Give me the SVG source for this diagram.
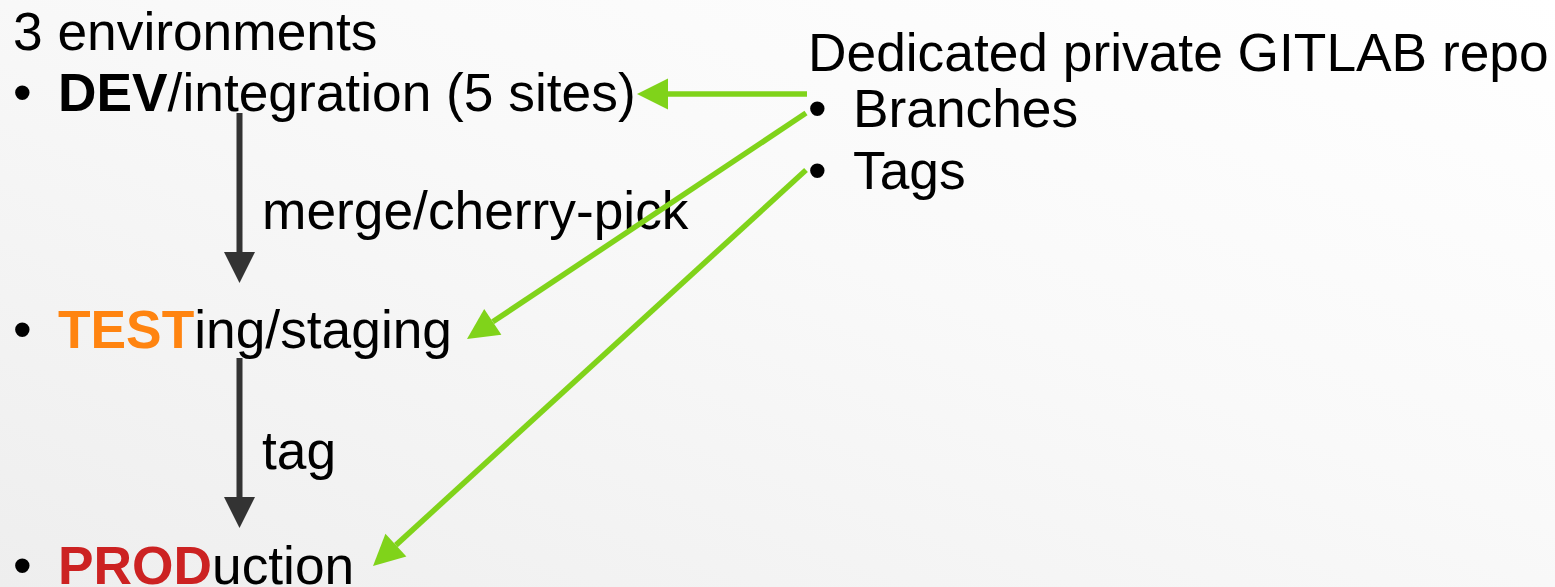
<svg xmlns="http://www.w3.org/2000/svg" width="1555" height="587" viewBox="0 0 1555 587">
<style>
text{font-family:"Liberation Sans",Arial,sans-serif;font-size:53.3px;fill:#000}
.b{font-weight:bold}
.test{fill:#FF8410}
.prod{fill:#CC2222}
.dark{stroke:#333333;stroke-width:6;fill:none}
.green{stroke:#80D31A;stroke-width:5.5;fill:none}
</style>
<defs>
<linearGradient id="bg" x1="0" y1="1" x2="1" y2="0">
<stop offset="0" stop-color="#eeeeee"/>
<stop offset="0.55" stop-color="#f9f9f9"/>
<stop offset="1" stop-color="#ffffff"/>
</linearGradient>
<marker id="hd" markerUnits="userSpaceOnUse" markerWidth="32" markerHeight="32" refX="0" refY="15.5" orient="auto" overflow="visible">
<path d="M0,0 L31,15.5 L0,31 z" fill="#333333"/>
</marker>
<marker id="hg" markerUnits="userSpaceOnUse" markerWidth="32" markerHeight="32" refX="0" refY="15.5" orient="auto" overflow="visible">
<path d="M0,0 L31,15.5 L0,31 z" fill="#80D31A"/>
</marker>
</defs>
<rect x="0" y="0" width="1555" height="587" fill="url(#bg)"/>

<g id="title-env">
<text x="13" y="50">3 environments</text>
</g>
<g id="dev">
<text x="13" y="111">•</text>
<text x="58" y="111"><tspan class="b">DEV</tspan>/integration (5 sites)</text>
</g>
<g id="testing">
<text x="13" y="348">•</text>
<text x="58" y="348"><tspan class="b test">TEST</tspan>ing/staging</text>
</g>
<g id="prod">
<text x="13" y="584">•</text>
<text x="58" y="584"><tspan class="b prod">PROD</tspan>uction</text>
</g>
<g id="repo">
<text x="808" y="71">Dedicated private GITLAB repo</text>
</g>
<g id="branches">
<text x="808" y="127">•</text>
<text x="853" y="127">Branches</text>
</g>
<g id="tags">
<text x="808" y="189">•</text>
<text x="853" y="189">Tags</text>
</g>

<g id="connectors">
<line class="dark" x1="239.5" y1="113" x2="239.5" y2="252" marker-end="url(#hd)"/>
<text x="262" y="229">merge/cherry-pick</text>
<line class="dark" x1="239.5" y1="358" x2="239.5" y2="497" marker-end="url(#hd)"/>
<text x="262" y="469">tag</text>
<line class="green" x1="807" y1="94" x2="668" y2="94" marker-end="url(#hg)"/>
<line class="green" x1="806" y1="113" x2="492.8" y2="321.8" marker-end="url(#hg)"/>
<line class="green" x1="806" y1="170" x2="395.9" y2="545.1" marker-end="url(#hg)"/>
</g>
</svg>
